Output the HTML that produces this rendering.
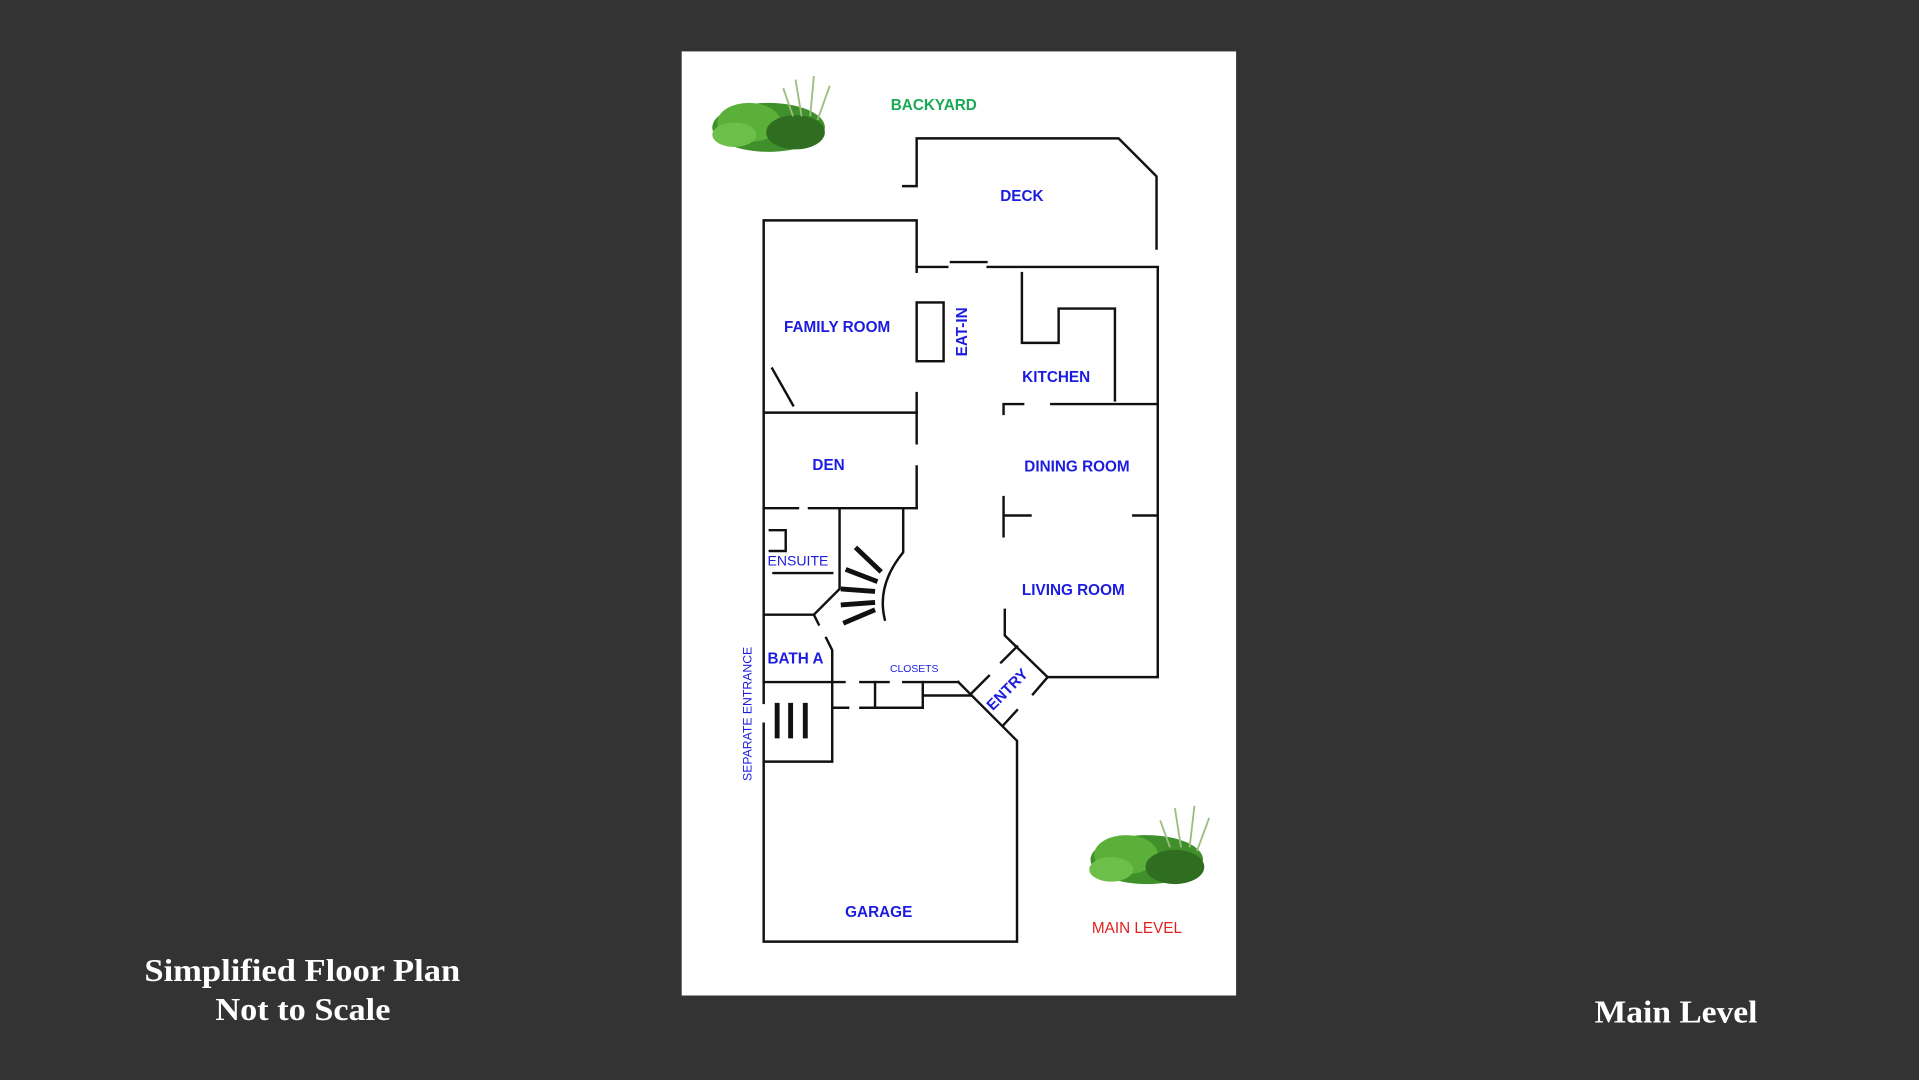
<!DOCTYPE html>
<html><head><meta charset="utf-8"><style>
html,body{margin:0;padding:0;background:#333333;width:1919px;height:1080px;overflow:hidden}
svg{display:block}
</style></head><body>
<svg width="1919" height="1080" viewBox="0 0 1568 882" preserveAspectRatio="none" xmlns="http://www.w3.org/2000/svg">
<rect x="0" y="0" width="1568" height="882" fill="#333333"/>
<rect x="557" y="42" width="453" height="771" fill="#ffffff"/>
<g stroke="#111" stroke-width="2" fill="none" stroke-linecap="square">
<path d="M738,152 H749 V113 H914 L945,144 V203"/>
<path d="M624,574 V180 H749 V222"/>
<path d="M749,218 H774"/>
<path d="M777,214 H806"/>
<path d="M807,218 H946 V553 H857"/>
<rect x="749" y="247" width="22" height="48"/>
<path d="M631,301 L648,331"/>
<path d="M624,337 H749"/>
<path d="M749,321 V362 M749,381 V415"/>
<path d="M835,223 V280 H865 V252 H911 V327"/>
<path d="M820,338 V330 H836 M859,330 H946"/>
<path d="M820,406 V438 M820,421 H842 M926,421 H946"/>
<path d="M821,498 V519 L856,553"/>
<path d="M793,567 L808,552 M818,541 L831,528"/>
<path d="M820,592 L831,580 M844,567 L856,553"/>
<path d="M783,557 L831,605 V769 H624 V591"/>
<path d="M624,415 H652 M661,415 H749"/>
<path d="M686,415 V481 L665,502 H624"/>
<path d="M629,433 H642 V450 H629"/>
<path d="M632,468 H680"/>
<path d="M665,502 L669,510 M675,521 L680,531 V622 H624"/>
<path d="M738,415 V451 Q716,478 723,506"/>
<path d="M624,557 H690 M703,557 H726 M738,557 H783"/>
<path d="M715,557 V578 M754,557 V578"/>
<path d="M703,578 H754 M680,578 H693 M754,568 H793"/>
</g>
<g stroke="#111" stroke-width="4" stroke-linecap="butt">
<path d="M699,447 L720,467 M691,465 L717,475 M687,481 L715,483 M687,494 L715,492 M689,509 L715,498"/>
<path d="M635,574 V603 M646,574 V603 M658,574 V603"/>
</g>
<g>
<ellipse cx="628" cy="104" rx="46" ry="20" fill="#3f8f2a"/>
<ellipse cx="612" cy="100" rx="26" ry="16" fill="#5bb03a"/>
<ellipse cx="650" cy="108" rx="24" ry="14" fill="#2f6e20"/>
<ellipse cx="600" cy="110" rx="18" ry="10" fill="#6cc04a"/>
<path d="M655,95 L650,65 M662,95 L665,62 M668,98 L678,70 M648,95 L640,72" stroke="#9bbd80" stroke-width="1.5"/>
</g>
<g>
<ellipse cx="937" cy="702" rx="46" ry="20" fill="#3f8f2a"/>
<ellipse cx="920" cy="698" rx="26" ry="16" fill="#5bb03a"/>
<ellipse cx="960" cy="708" rx="24" ry="14" fill="#2f6e20"/>
<ellipse cx="908" cy="710" rx="18" ry="10" fill="#6cc04a"/>
<path d="M965,692 L960,660 M972,692 L976,658 M978,695 L988,668 M956,692 L948,670" stroke="#9bbd80" stroke-width="1.5"/>
</g>
<g font-family="'Liberation Sans',sans-serif" font-weight="bold" fill="#1c1ce0" text-anchor="middle" font-size="12.5">
<text x="763" y="90" fill="#1aaa55">BACKYARD</text>
<text x="835" y="164">DECK</text>
<text x="684" y="271">FAMILY ROOM</text>
<text x="0" y="0" transform="translate(790,271) rotate(-90)">EAT-IN</text>
<text x="863" y="312">KITCHEN</text>
<text x="677" y="384">DEN</text>
<text x="880" y="385">DINING ROOM</text>
<text x="652" y="462" font-size="11.5" font-weight="normal">ENSUITE</text>
<text x="877" y="486">LIVING ROOM</text>
<text x="650" y="542">BATH A</text>
<text x="747" y="549" font-size="8.5" font-weight="normal">CLOSETS</text>
<text x="0" y="0" transform="translate(826,566) rotate(-45)">ENTRY</text>
<text x="0" y="0" font-size="10" font-weight="normal" transform="translate(614,583) rotate(-90)">SEPARATE ENTRANCE</text>
<text x="718" y="749">GARAGE</text>
<text x="929" y="762" fill="#e02020" font-weight="normal">MAIN LEVEL</text>
</g>
<g font-family="'Liberation Serif',serif" font-weight="bold" fill="#ffffff" font-size="26">
<text x="118" y="801" textLength="258" lengthAdjust="spacingAndGlyphs">Simplified Floor Plan</text>
<text x="176" y="833" textLength="143" lengthAdjust="spacingAndGlyphs">Not to Scale</text>
<text x="1303" y="835" textLength="133" lengthAdjust="spacingAndGlyphs">Main Level</text>
</g>
</svg>
</body></html>
